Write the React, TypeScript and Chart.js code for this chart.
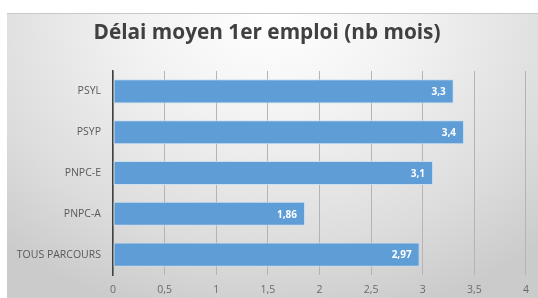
import React, { useEffect, useRef } from "react";
import { Chart, registerables } from "chart.js";

Chart.register(...registerables);

const categories = ["PSYL", "PSYP", "PNPC-E", "PNPC-A", "TOUS PARCOURS"];
const values = [3.3, 3.4, 3.1, 1.86, 2.97];
const valueLabels = ["3,3", "3,4", "3,1", "1,86", "2,97"];
const xMin = 0;
const xMax = 4;
const xStep = 0.5;
const title = "Délai moyen 1er emploi (nb mois)";

const fmt = (v: number) => String(v).replace(".", ",");

const labelPlugin = {
  id: "barValueLabels",
  afterDatasetsDraw(chart: any) {
    const ctx = chart.ctx;
    const meta = chart.getDatasetMeta(0);
    ctx.save();
    ctx.fillStyle = "#ffffff";
    ctx.font = "bold 10px 'Open Sans'";
    ctx.textAlign = "right";
    ctx.textBaseline = "middle";
    meta.data.forEach((bar: any, i: number) => {
      ctx.fillText(valueLabels[i], bar.x - 8, bar.y + 1);
    });
    ctx.restore();
  },
};

export default function App() {
  const ref = useRef<HTMLCanvasElement | null>(null);
  useEffect(() => {
    if (!ref.current) return;
    const chart = new Chart(ref.current, {
      type: "bar",
      data: {
        labels: categories,
        datasets: [
          {
            data: values,
            backgroundColor: "#5f9dd6",
            borderColor: "rgba(200,222,242,0.9)",
            borderWidth: 1,
            borderSkipped: false,
            barPercentage: 0.59,
            categoryPercentage: 1,
          },
        ],
      },
      options: {
        indexAxis: "y",
        animation: false,
        responsive: false,
        maintainAspectRatio: false,
        layout: { padding: { left: 0, right: 11, top: 0, bottom: 0 } },
        plugins: {
          legend: { display: false },
          tooltip: { enabled: false },
          title: {
            display: true,
            text: title,
            color: "#404040",
            font: { family: "Open Sans", size: 20.8, weight: "bold", lineHeight: 1.2 },
            padding: { top: 6.5, bottom: 25.5 },
          },
        },
        scales: {
          x: {
            min: xMin,
            max: xMax,
            ticks: {
              stepSize: xStep,
              color: "#6a6a6a",
              font: { family: "Open Sans", size: 10.5 },
              padding: 9,
              callback: (v: any) => fmt(Number(v)),
            },
            grid: { color: "#b4b4b4", lineWidth: 1, drawTicks: false },
            border: { display: false },
            afterFit: (s: any) => {
              s.height = 23;
            },
          },
          y: {
            ticks: {
              color: "#595959",
              font: { family: "Open Sans", size: 10.5 },
              padding: 12,
            },
            grid: { display: false, drawTicks: false },
            border: { display: true, color: "#404040", width: 1.5 },
            afterFit: (s: any) => {
              s.width = 106;
            },
          },
        },
      },
      plugins: [labelPlugin],
    });
    return () => chart.destroy();
  }, []);
  return (
    <div
      style={{
        position: "absolute",
        left: 7,
        top: 13,
        width: 531,
        height: 285,
        background:
          "radial-gradient(ellipse 75% 110% at 50% 0%, #ffffff 0%, #f2f2f2 35%, #dcdcdc 75%, #cbcbcb 100%)",
        borderTop: "1px solid #c8c8c8",
        boxSizing: "border-box",
      }}
    >
      <canvas ref={ref} width={531} height={284} style={{ display: "block" }} />
    </div>
  );
}
